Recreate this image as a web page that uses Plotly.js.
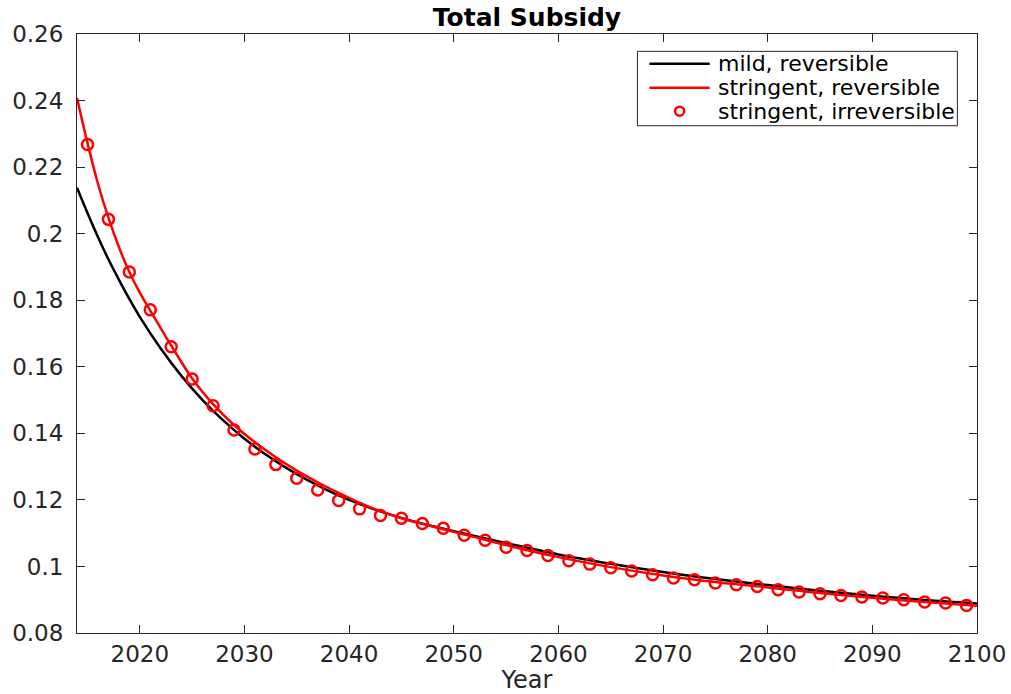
<!DOCTYPE html>
<html>
<head>
<meta charset="utf-8">
<script src="https://cdn.plot.ly/plotly-3.0.1.min.js"></script>
<style>html,body{margin:0;padding:0;background:#fff;}#chart{width:1011px;height:694px;}</style>
</head>
<body>
<div id="chart"></div>
<script>
// Mild, reversible (black line)
const mildYears = [2014,2015,2016,2017,2018,2019,2020,2022,2024,2026,2028,2030,2032,2034,2036,2038,2040,2042,2044,2046,2048,2050,2055,2060,2065,2070,2075,2080,2085,2090,2095,2100];
const mildValues = [0.2138,0.2062,0.1990,0.1923,0.1862,0.1804,0.1750,0.1655,0.1572,0.1500,0.1438,0.1384,0.1337,0.1296,0.1260,0.1228,0.1200,0.1176,0.1155,0.1137,0.1121,0.1106,0.1070,0.1036,0.1008,0.0983,0.0962,0.0944,0.0927,0.0912,0.0899,0.0889];

// Stringent, reversible (red line)
const strRevYears = [2014,2015,2016,2017,2018,2019,2020,2021,2022,2023,2025,2027,2029,2031,2033,2035,2037,2039,2041,2043,2045,2047,2049,2051,2053,2055,2060,2065,2070,2075,2080,2085,2090,2095,2100];
const strRevValues = [0.2408,0.2272,0.2150,0.2048,0.1960,0.1885,0.1823,0.1769,0.1716,0.1664,0.1565,0.1488,0.1425,0.1373,0.1328,0.1288,0.1253,0.1221,0.1191,0.1166,0.1145,0.1128,0.1112,0.1096,0.1080,0.1064,0.1028,0.0998,0.0973,0.0953,0.0937,0.0920,0.0906,0.0893,0.0882];

// Stringent, irreversible (red circles)
const strIrrYears = [2015,2017,2019,2021,2023,2025,2027,2029,2031,2033,2035,2037,2039,2041,2043,2045,2047,2049,2051,2053,2055,2057,2059,2061,2063,2065,2067,2069,2071,2073,2075,2077,2079,2081,2083,2085,2087,2089,2091,2093,2095,2097,2099];
const strIrrValues = [0.2268,0.2043,0.1885,0.1771,0.1660,0.1563,0.1483,0.1410,0.1353,0.1306,0.1265,0.1230,0.1198,0.1173,0.1153,0.1145,0.1129,0.1115,0.1094,0.1079,0.1058,0.1048,0.1033,0.1017,0.1007,0.0996,0.0986,0.0975,0.0965,0.0960,0.0950,0.0945,0.0940,0.0930,0.0923,0.0918,0.0913,0.0908,0.0905,0.0900,0.0893,0.0890,0.0883];

const seriesNames = ['mild, reversible', 'stringent, reversible', 'stringent, irreversible'];
const xTicks = [2020,2030,2040,2050,2060,2070,2080,2090,2100];
const yTicks = [0.08,0.1,0.12,0.14,0.16,0.18,0.2,0.22,0.24,0.26];
const yTickText = ['0.08','0.1','0.12','0.14','0.16','0.18','0.2','0.22','0.24','0.26'];

const FONT = 'DejaVu Sans, Liberation Sans, sans-serif';
const AX = '#262626';
const BLACK = '#000000', RED = '#ff0000';

const traces = [
  {x: mildYears, y: mildValues, name: seriesNames[0], mode: 'lines',
   line: {color: BLACK, width: 2.5, shape: 'spline', smoothing: 1}},
  {x: strRevYears, y: strRevValues, name: seriesNames[1], mode: 'lines',
   line: {color: RED, width: 2.5, shape: 'spline', smoothing: 1}},
  {x: strIrrYears, y: strIrrValues, name: seriesNames[2], mode: 'markers',
   marker: {symbol: 'circle-open', color: RED, size: 11, line: {color: RED, width: 2.5}}}
];

// Legend drawn in paper coordinates (compact MATLAB-style box)
const lgX0 = 0.6227, lgX1 = 0.9782, lgY0 = 0.8469, lgY1 = 0.971;
const rowY = [0.9503, 0.9102, 0.8712];
const sampleX0 = 0.636, sampleX1 = 0.703, textX = 0.7095;
const shapes = [
  {type: 'rect', xref: 'paper', yref: 'paper', x0: lgX0, x1: lgX1, y0: lgY0, y1: lgY1,
   line: {color: AX, width: 1}, fillcolor: '#ffffff', layer: 'above'},
  {type: 'line', xref: 'paper', yref: 'paper', x0: sampleX0, x1: sampleX1, y0: rowY[0], y1: rowY[0],
   line: {color: BLACK, width: 2.5}, layer: 'above'},
  {type: 'line', xref: 'paper', yref: 'paper', x0: sampleX0, x1: sampleX1, y0: rowY[1], y1: rowY[1],
   line: {color: RED, width: 2.5}, layer: 'above'},
  {type: 'circle', xref: 'paper', yref: 'paper', xsizemode: 'pixel', ysizemode: 'pixel',
   xanchor: (sampleX0 + sampleX1) / 2, yanchor: rowY[2], x0: -4.5, x1: 4.5, y0: -4.5, y1: 4.5,
   line: {color: RED, width: 2.5}, layer: 'above'}
];
const annotations = seriesNames.map((name, i) => ({
  text: name, xref: 'paper', yref: 'paper', x: textX, y: rowY[i],
  xanchor: 'left', yanchor: 'middle', showarrow: false,
  font: {family: FONT, size: 22, color: BLACK}
}));

const layout = {
  width: 1011, height: 694,
  margin: {l: 77, r: 34, t: 34, b: 61, pad: 0},
  paper_bgcolor: '#ffffff', plot_bgcolor: '#ffffff',
  font: {family: FONT, size: 22, color: AX},
  title: {text: '<b>Total Subsidy</b>', x: 0.5, xref: 'paper', xanchor: 'center',
          y: 1 - 17/694, yref: 'container', yanchor: 'middle',
          font: {family: 'DejaVu Sans, sans-serif', size: 25, color: BLACK}},
  showlegend: false,
  shapes: shapes,
  annotations: annotations,
  xaxis: {range: [2014, 2100], tickmode: 'array', tickvals: xTicks,
          ticks: 'inside', ticklen: 8, tickwidth: 1, tickcolor: AX,
          showline: true, linecolor: AX, linewidth: 1, mirror: 'ticks',
          showgrid: false, zeroline: false,
          tickfont: {family: FONT, size: 23, color: AX},
          ticklabelstandoff: 0,
          title: {text: 'Year', standoff: 10, font: {family: FONT, size: 24, color: AX}}},
  yaxis: {range: [0.08, 0.26], tickmode: 'array', tickvals: yTicks, ticktext: yTickText,
          ticks: 'inside', ticklen: 8, tickwidth: 1, tickcolor: AX,
          showline: true, linecolor: AX, linewidth: 1, mirror: 'ticks',
          showgrid: false, zeroline: false,
          tickfont: {family: FONT, size: 23, color: AX},
          ticklabelstandoff: 8}
};

Plotly.newPlot('chart', traces, layout, {displayModeBar: false, staticPlot: true});
</script>
</body>
</html>
